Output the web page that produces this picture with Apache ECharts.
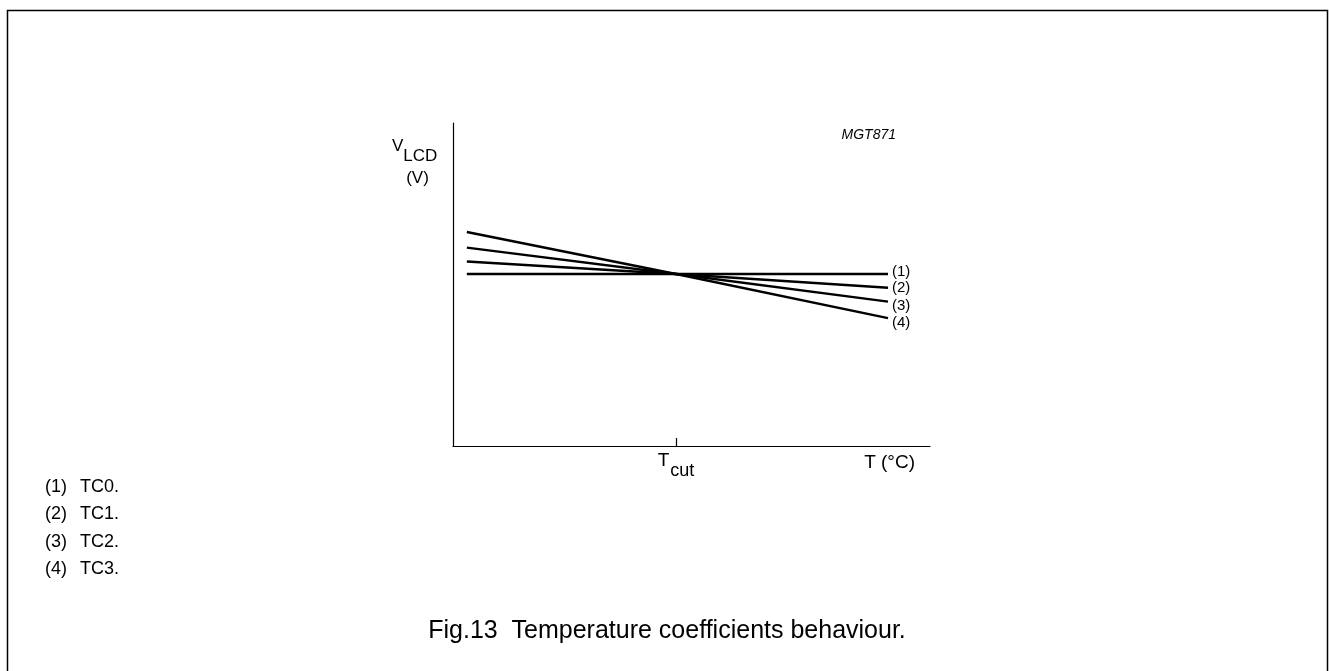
<!DOCTYPE html>
<html>
<head>
<meta charset="utf-8">
<script src="https://cdn.jsdelivr.net/npm/echarts@6/dist/echarts.min.js"></script>
<style>
html,body{margin:0;padding:0;background:#fff;}
#chart{width:1329px;height:671px;}
</style>
</head>
<body>
<div id="chart"></div>
<script>
// ---- data (arbitrary units) ----
var temperature = [2.9, 46.75, 91.2];          // start, T_cut, end
var tc0 = [53.25, 53.25, 53.25];
var tc1 = [57.1, 53.25, 49.0];
var tc2 = [61.4, 53.25, 44.7];
var tc3 = [66.25, 53.25, 39.6];
var seriesNames = ['(1)', '(2)', '(3)', '(4)'];
var legendCodes = ['TC0.', 'TC1.', 'TC2.', 'TC3.'];
var tCut = 46.75;

var FONT = '"Liberation Sans", Arial, Helvetica, sans-serif';

function pairs(ys) {
  return temperature.map(function (x, i) { return [x, ys[i]]; });
}
var allSeries = [tc0, tc1, tc2, tc3];
var labelOffsets = [[0, -2.3], [0, 0.6], [0, 4], [0, 4.3]];

var series = allSeries.map(function (ys, i) {
  return {
    name: seriesNames[i],
    type: 'line',
    data: pairs(ys),
    symbol: 'none',
    silent: true,
    lineStyle: { color: '#000', width: 2.4 },
    endLabel: {
      show: true,
      formatter: seriesNames[i],
      color: '#000',
      fontFamily: FONT,
      fontSize: 15,
      distance: 4,
      offset: labelOffsets[i]
    }
  };
});

function txt(x, y, text, font, opts) {
  opts = opts || {};
  return {
    type: 'text', x: x, y: y, silent: true,
    style: {
      text: text, font: font, fill: '#000',
      align: opts.align || 'left', verticalAlign: opts.valign || 'middle',
      rich: opts.rich
    }
  };
}

var legendGraphics = [];
var legendRows = [487, 514.5, 542, 569.5];
seriesNames.forEach(function (n, i) {
  legendGraphics.push(txt(45, legendRows[i], n, '18px ' + FONT));
  legendGraphics.push(txt(80, legendRows[i], legendCodes[i], '18px ' + FONT));
});

var chart = echarts.init(document.getElementById('chart'), null, { renderer: 'canvas' });
chart.setOption({
  animation: false,
  backgroundColor: '#fff',
  grid: { left: 453, right: 399, top: 123, bottom: 225, containLabel: false },
  xAxis: {
    type: 'value', min: 0, max: 100,
    axisLine: { show: true, lineStyle: { color: '#000', width: 1.2 } },
    axisTick: { show: true, inside: true, length: 8, customValues: [tCut], lineStyle: { color: '#000', width: 1.2 } },
    axisLabel: {
      show: true, customValues: [tCut], margin: 5,
      formatter: function () { return '{t|T}{s|cut}'; },
      rich: {
        t: { fontFamily: FONT, fontSize: 19, color: '#000', verticalAlign: 'top', padding: [0, 1, 10, 0] },
        s: { fontFamily: FONT, fontSize: 18, color: '#000', verticalAlign: 'bottom', padding: [10, 0, 0, 0] }
      }
    },
    splitLine: { show: false }
  },
  yAxis: {
    type: 'value', min: 0, max: 100,
    axisLine: { show: true, lineStyle: { color: '#000', width: 1.2 } },
    axisTick: { show: false },
    axisLabel: { show: false },
    splitLine: { show: false }
  },
  series: series,
  graphic: [
    { type: 'rect', shape: { x: 7.5, y: 10.5, width: 1320, height: 700 },
      style: { fill: 'none', stroke: '#000', lineWidth: 1.5 }, silent: true },
    txt(392, 138, '{v|V}{s|LCD}', '17px ' + FONT, {
      valign: 'top',
      rich: { v: { font: '17px ' + FONT, fill: '#000', verticalAlign: 'top', padding: [0, 0, 10, 0] },
              s: { font: '17px ' + FONT, fill: '#000', verticalAlign: 'bottom', padding: [10, 0, 0, 0] } } }),
    txt(417.5, 178, '(V)', '17px ' + FONT, { align: 'center' }),
    txt(896, 135.5, 'MGT871', 'italic 14px ' + FONT, { align: 'right' }),
    txt(915, 463, 'T (°C)', '19px ' + FONT, { align: 'right' }),
    txt(667, 631, 'Fig.13  Temperature coefficients behaviour.', '25px ' + FONT, { align: 'center' })
  ].concat(legendGraphics)
});
</script>
</body>
</html>
